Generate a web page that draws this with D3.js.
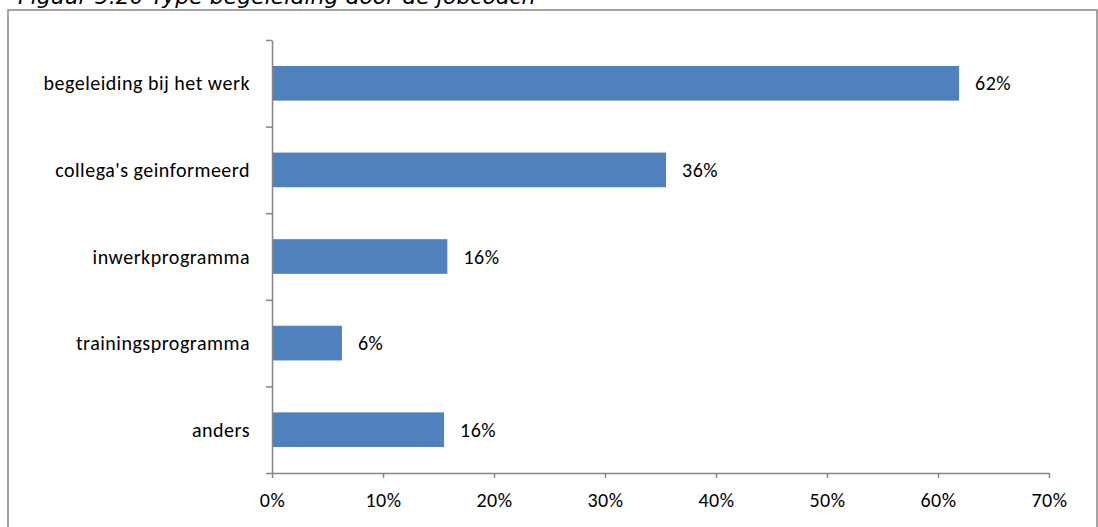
<!DOCTYPE html>
<html>
<head>
<meta charset="utf-8">
<script src="https://cdn.jsdelivr.net/npm/d3@7"></script>
<style>
  body { margin: 0; background: #fff; }
  svg { display: block; }
  .lbl { font-family: Carlito, Calibri, Lato, sans-serif; font-size: 20px; letter-spacing: 0.5px; fill: #000; }
  .axis path, .axis line { stroke: #868686; stroke-width: 1.5; }
</style>
</head>
<body>
<div id="chart"></div>
<script>
// chart values
var categories = ["begeleiding bij het werk", "collega's geinformeerd", "inwerkprogramma", "trainingsprogramma", "anders"];
var values = [61.9, 35.5, 15.8, 6.3, 15.5];
var valueLabels = ["62%", "36%", "16%", "6%", "16%"];
var xTicks = [0, 10, 20, 30, 40, 50, 60, 70];
var title = "Figuur 5.20 Type begeleiding door de jobcoach";

var W = 1098, H = 527;
var margin = {top: 40, left: 272, right: 49, bottom: 54};
var width = W - margin.left - margin.right;
var height = H - margin.top - margin.bottom;

var svg = d3.select("#chart").append("svg")
    .attr("width", W)
    .attr("height", H);

// title (cut off at the top like the original)
svg.append("text")
    .attr("x", 18)
    .attr("y", 4)
    .attr("font-family", "'DejaVu Sans', Verdana, sans-serif")
    .attr("font-style", "italic")
    .attr("font-size", 22)
    .attr("fill", "#000")
    .text(title);

// outer frame
svg.append("rect")
    .attr("x", 8)
    .attr("y", 10)
    .attr("width", 1089)
    .attr("height", 540)
    .attr("fill", "none")
    .attr("stroke", "#868686")
    .attr("stroke-width", 1.5);

var g = svg.append("g")
    .attr("transform", "translate(" + margin.left + "," + margin.top + ")");

var x = d3.scaleLinear()
    .domain([0, 70])
    .range([0, width]);

var y = d3.scaleBand()
    .domain(categories)
    .range([0, height])
    .paddingInner(0.6)
    .paddingOuter(0.3);

// boundaries between the categories, for the y ticks
var yEdge = d3.scaleLinear()
    .domain([0, categories.length])
    .range([0, height]);

// bars
g.selectAll("rect.bar")
    .data(categories)
    .enter().append("rect")
    .attr("class", "bar")
    .attr("x", 0)
    .attr("y", function(d) { return y(d); })
    .attr("width", function(d, i) { return x(values[i]); })
    .attr("height", y.bandwidth())
    .attr("fill", "#4F81BD");

// value labels
g.selectAll("text.val")
    .data(categories)
    .enter().append("text")
    .attr("class", "lbl val")
    .attr("x", function(d, i) { return x(values[i]) + 16; })
    .attr("y", function(d) { return y(d) + y.bandwidth() / 2; })
    .attr("dy", "0.35em")
    .text(function(d, i) { return valueLabels[i]; });

// category labels
g.selectAll("text.cat")
    .data(categories)
    .enter().append("text")
    .attr("class", "lbl cat")
    .attr("x", -22)
    .attr("y", function(d) { return y(d) + y.bandwidth() / 2; })
    .attr("dy", "0.35em")
    .attr("text-anchor", "end")
    .text(function(d) { return d; });

// y axis
var yAxis = g.append("g")
    .attr("class", "axis")
    .call(d3.axisLeft(yEdge)
        .tickValues(d3.range(categories.length + 1))
        .tickFormat("")
        .tickSize(6)
        .tickSizeOuter(0));

// x axis
var xAxis = g.append("g")
    .attr("class", "axis")
    .attr("transform", "translate(0," + height + ")")
    .call(d3.axisBottom(x)
        .tickValues(xTicks)
        .tickFormat(function(d) { return d + "%"; })
        .tickSize(5)
        .tickSizeOuter(0));

xAxis.selectAll("text")
    .attr("class", "lbl")
    .attr("y", 34)
    .attr("dy", 0)
    .attr("font-family", null)
    .attr("font-size", null);

g.selectAll(".axis text").attr("fill", "#000");
</script>
</body>
</html>
